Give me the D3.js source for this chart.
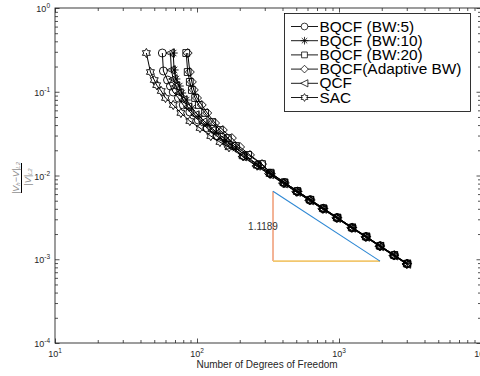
<!DOCTYPE html>
<html>
<head>
<meta charset="utf-8">
<script src="https://cdn.jsdelivr.net/npm/d3@7.9.0/dist/d3.min.js"></script>
<style>
  body { margin: 0; background: #fff; }
  svg { display: block; font-family: "Liberation Sans", Arial, sans-serif; }
</style>
</head>
<body>
<div id="chart"></div>
<script>
// ---- data ----
const sacDof = [44, 47, 50, 52, 56, 60, 68, 77, 89, 105, 125, 145, 168, 211, 265, 327, 410, 506, 625, 772, 968, 1234, 1549, 1944, 2440, 3012];
const sacErr = [0.290, 0.172, 0.138, 0.120, 0.102, 0.0842, 0.0695, 0.0558, 0.0447, 0.0369, 0.0296, 0.0251, 0.0217, 0.0169, 0.0131, 0.0104, 0.00807, 0.00639, 0.00506, 0.00400, 0.00311, 0.00237, 0.00185, 0.00143, 0.00111, 0.000881];

const bw5Dof = [57, 58, 62, 65, 68, 74, 80, 89, 102, 118, 138, 165, 213, 268, 330, 414, 510, 630, 778, 975, 1242, 1559, 1956, 2455, 3030];
const bw5Err = [0.290, 0.177, 0.138, 0.117, 0.0993, 0.0842, 0.0695, 0.0573, 0.0460, 0.0369, 0.0296, 0.0231, 0.0172, 0.0134, 0.0106, 0.00822, 0.00650, 0.00514, 0.00406, 0.00315, 0.00240, 0.00187, 0.00145, 0.00112, 0.000889];

const qcfDof = [65, 66, 68, 71, 75, 80, 86, 97, 110, 128, 150, 176, 209, 262, 324, 406, 502, 620, 766, 961, 1225, 1540, 1932, 2425, 2995];
const qcfErr = [0.290, 0.182, 0.142, 0.117, 0.0966, 0.0797, 0.0657, 0.0528, 0.0435, 0.0349, 0.0273, 0.0225, 0.0168, 0.0130, 0.0103, 0.00800, 0.00634, 0.00502, 0.00397, 0.00309, 0.00236, 0.00184, 0.00142, 0.00110, 0.000876];

const bw10Dof = [68, 69, 71, 75, 78, 84, 92, 103, 118, 136, 160, 188, 270, 333, 417, 514, 634, 782, 980, 1248, 1565, 1962, 2462, 3040];
const bw10Err = [0.290, 0.182, 0.142, 0.117, 0.0966, 0.0797, 0.0640, 0.0513, 0.0412, 0.0331, 0.0265, 0.0213, 0.0133, 0.0105, 0.00815, 0.00645, 0.00510, 0.00403, 0.00313, 0.00239, 0.00186, 0.00144, 0.00112, 0.000886];

const bw20Dof = [84, 86, 89, 92, 97, 103, 114, 128, 145, 165, 188, 229, 287, 330, 412, 508, 627, 775, 972, 1238, 1553, 1950, 2447, 3020];
const bw20Err = [0.290, 0.172, 0.131, 0.105, 0.0842, 0.0695, 0.0558, 0.0435, 0.0349, 0.0280, 0.0225, 0.0176, 0.0137, 0.0108, 0.00830, 0.00652, 0.00512, 0.00404, 0.00313, 0.00238, 0.00186, 0.00144, 0.00112, 0.000884];

const adaptDof = [86, 89, 92, 95, 100, 108, 118, 134, 152, 176, 201, 236, 287, 322, 404, 500, 618, 764, 958, 1222, 1536, 1928, 2420, 2990];
const adaptErr = [0.290, 0.172, 0.131, 0.105, 0.0842, 0.0695, 0.0558, 0.0423, 0.0349, 0.0280, 0.0219, 0.0176, 0.0137, 0.0106, 0.00812, 0.00640, 0.00506, 0.00401, 0.00312, 0.00238, 0.00185, 0.00143, 0.00111, 0.000879];

const legendNames = ['BQCF (BW:5)', 'BQCF (BW:10)', 'BQCF (BW:20)', 'BQCF(Adaptive BW)', 'QCF', 'SAC'];

// slope triangle
const triDof = [343, 1945];
const triErr = [0.00095, 0.0065];
const slopeText = '1.1189';

const xMajor = [10, 100, 1000, 10000];
const yMajor = [1e-4, 1e-3, 1e-2, 1e-1, 1];

// ---- series table ----
const series = [
  { name: legendNames[0], marker: 'circle', dof: bw5Dof, err: bw5Err },
  { name: legendNames[1], marker: 'asterisk', dof: bw10Dof, err: bw10Err },
  { name: legendNames[2], marker: 'square', dof: bw20Dof, err: bw20Err },
  { name: legendNames[3], marker: 'diamond', dof: adaptDof, err: adaptErr },
  { name: legendNames[4], marker: 'triLeft', dof: qcfDof, err: qcfErr },
  { name: legendNames[5], marker: 'hexagram', dof: sacDof, err: sacErr },
];

const width = 480;
const height = 376;
const area = { left: 55, right: 481, top: 8, bottom: 343 };
const axisColor = '#262626';

const svg = d3.select('#chart')
  .append('svg')
  .attr('width', width)
  .attr('height', height);

const xScale = d3.scaleLog().domain([10, 10000]).range([area.left, area.right]);
const yScale = d3.scaleLog().domain([1e-4, 1]).range([area.bottom, area.top]);

// marker shapes
function markerPath(type) {
  const p = d3.path();
  if (type === 'circle') {
    p.moveTo(4, 0); p.arc(0, 0, 4, 0, 2 * Math.PI);
  } else if (type === 'asterisk') {
    const r = 4.5;
    for (let a = 0; a < 4; a++) {
      const t = a * Math.PI / 4;
      p.moveTo(-r * Math.cos(t), -r * Math.sin(t));
      p.lineTo(r * Math.cos(t), r * Math.sin(t));
    }
  } else if (type === 'square') {
    p.rect(-3.4, -3.4, 6.8, 6.8);
  } else if (type === 'diamond') {
    p.moveTo(0, -4.5); p.lineTo(4.5, 0); p.lineTo(0, 4.5); p.lineTo(-4.5, 0); p.closePath();
  } else if (type === 'triLeft') {
    p.moveTo(-4.5, 0); p.lineTo(4, -4.2); p.lineTo(4, 4.2); p.closePath();
  } else if (type === 'hexagram') {
    const R = 4.6, r = R / Math.sqrt(3);
    for (let i = 0; i < 12; i++) {
      const t = -Math.PI / 2 + i * Math.PI / 6;
      const rr = i % 2 === 0 ? R : r;
      if (i === 0) p.moveTo(rr * Math.cos(t), rr * Math.sin(t));
      else p.lineTo(rr * Math.cos(t), rr * Math.sin(t));
    }
    p.closePath();
  }
  return p.toString();
}

// slope triangle
const tri = svg.append('g').attr('class', 'triangle').attr('fill', 'none');
tri.append('line')
  .attr('x1', xScale(triDof[0])).attr('x2', xScale(triDof[0]))
  .attr('y1', yScale(triErr[0])).attr('y2', yScale(triErr[1]))
  .attr('stroke', '#f0a07c').attr('stroke-width', 1.6);
tri.append('line')
  .attr('x1', xScale(triDof[0])).attr('x2', xScale(triDof[1]))
  .attr('y1', yScale(triErr[0])).attr('y2', yScale(triErr[0]))
  .attr('stroke', '#f2c76e').attr('stroke-width', 1.6);
tri.append('line')
  .attr('x1', xScale(triDof[0])).attr('x2', xScale(triDof[1]))
  .attr('y1', yScale(triErr[1])).attr('y2', yScale(triErr[0]))
  .attr('stroke', '#2e88d4').attr('stroke-width', 1.1);
tri.append('text')
  .attr('x', xScale(triDof[0]) - 10)
  .attr('y', (yScale(triErr[0]) + yScale(triErr[1])) / 2 + 3.5)
  .attr('text-anchor', 'middle')
  .attr('font-size', 10)
  .attr('fill', '#333')
  .text(slopeText);

// series lines + markers
const line = d3.line()
  .x((d) => xScale(d[0]))
  .y((d) => yScale(d[1]));

series.forEach((s) => {
  const pts = s.dof.map((d, i) => [d, s.err[i]]);
  const g = svg.append('g').attr('class', 'series');
  g.append('path')
    .attr('d', line(pts))
    .attr('fill', 'none')
    .attr('stroke', '#000')
    .attr('stroke-width', 1);
  g.selectAll('path.mk')
    .data(pts)
    .join('path')
    .attr('class', 'mk')
    .attr('transform', (d) => `translate(${xScale(d[0])},${yScale(d[1])})`)
    .attr('d', markerPath(s.marker))
    .attr('fill', 'none')
    .attr('stroke', '#000')
    .attr('stroke-width', 0.9);
});

// axes: ticks pointing inward on all four sides
const xMinor = xScale.ticks().filter((t) => !xMajor.includes(t));
const yMinor = yScale.ticks().filter((t) => !yMajor.some((m) => Math.abs(m - t) < t * 1e-6));

function styleAxis(g) {
  g.select('.domain').remove();
  g.selectAll('line').attr('stroke', axisColor).attr('stroke-width', 0.8);
  g.selectAll('text').remove();
}

[[d3.axisBottom, area.bottom], [d3.axisTop, area.top]].forEach(([fn, pos]) => {
  svg.append('g').attr('transform', `translate(0,${pos})`)
    .call(fn(xScale).tickValues(xMinor).tickSize(-3).tickFormat('')).call(styleAxis);
  svg.append('g').attr('transform', `translate(0,${pos})`)
    .call(fn(xScale).tickValues(xMajor).tickSize(-4.5).tickFormat('')).call(styleAxis);
});
[[d3.axisLeft, area.left], [d3.axisRight, area.right]].forEach(([fn, pos]) => {
  svg.append('g').attr('transform', `translate(${pos},0)`)
    .call(fn(yScale).tickValues(yMinor).tickSize(-3).tickFormat('')).call(styleAxis);
  svg.append('g').attr('transform', `translate(${pos},0)`)
    .call(fn(yScale).tickValues(yMajor).tickSize(-4.5).tickFormat('')).call(styleAxis);
});

// frame
svg.append('rect')
  .attr('x', area.left).attr('y', area.top)
  .attr('width', area.right - area.left).attr('height', area.bottom - area.top)
  .attr('fill', 'none')
  .attr('stroke', axisColor)
  .attr('stroke-width', 0.9);

// tick labels with superscript exponents
const xl = svg.append('g').attr('fill', axisColor).attr('font-size', 9);
xMajor.forEach((v) => {
  const t = xl.append('text')
    .attr('x', xScale(v))
    .attr('y', area.bottom + 14)
    .attr('text-anchor', 'middle');
  t.append('tspan').text('10');
  t.append('tspan').attr('dy', -4).attr('font-size', 6.5).text(Math.round(Math.log10(v)));
});
const yl = svg.append('g').attr('fill', axisColor).attr('font-size', 9);
yMajor.forEach((v) => {
  const t = yl.append('text')
    .attr('x', area.left - 5)
    .attr('y', yScale(v) + 4)
    .attr('text-anchor', 'end');
  t.append('tspan').text('10');
  const e = Math.round(Math.log10(v));
  t.append('tspan').attr('dy', -4).attr('font-size', 6.5).text(e < 0 ? '-' + Math.abs(e) : e);
});

// axis titles
svg.append('text')
  .attr('x', (xScale(10) + xScale(10000)) / 2 - 1)
  .attr('y', 368)
  .attr('text-anchor', 'middle')
  .attr('font-size', 10)
  .attr('fill', axisColor)
  .text('Number of Degrees of Freedom');

const yt = svg.append('g')
  .attr('transform', 'translate(21.5,178) rotate(-90)')
  .attr('fill', '#8c8c8c')
  .attr('font-size', 9)
  .attr('font-style', 'italic');
yt.append('line')
  .attr('x1', -15).attr('x2', 15).attr('y1', 0).attr('y2', 0)
  .attr('stroke', '#000').attr('stroke-width', 1);
const num = yt.append('text').attr('x', 0).attr('y', -3).attr('text-anchor', 'middle');
num.append('tspan').text('|V');
num.append('tspan').attr('font-size', 6).attr('dy', 1.5).text('h');
num.append('tspan').attr('dy', -1.5).text('\u2212V|');
num.append('tspan').attr('font-size', 6).attr('dy', 1.5).text('L2');
const den = yt.append('text').attr('x', 1).attr('y', 9).attr('text-anchor', 'middle');
den.append('tspan').text('|V|');
den.append('tspan').attr('font-size', 6).attr('dy', 1.5).text('L2');

// legend
const legend = svg.append('g').attr('class', 'legend');
legend.append('rect')
  .attr('x', 284.5).attr('y', 13.5)
  .attr('width', 186).attr('height', 98)
  .attr('fill', '#fff')
  .attr('stroke', '#000')
  .attr('stroke-width', 0.8);
series.forEach((s, i) => {
  const cy = 26.5 + i * 14.2;
  legend.append('line')
    .attr('x1', 291).attr('x2', 318)
    .attr('y1', cy).attr('y2', cy)
    .attr('stroke', '#000').attr('stroke-width', 0.9);
  legend.append('path')
    .attr('transform', `translate(304.5,${cy}) scale(0.85)`)
    .attr('d', markerPath(s.marker))
    .attr('fill', '#fff')
    .attr('stroke', '#000')
    .attr('stroke-width', 0.9);
  legend.append('text')
    .attr('transform', `translate(319.5,${cy + 5}) scale(1.1,1)`)
    .attr('font-size', 14)
    .attr('fill', '#000')
    .text(s.name);
});
</script>
</body>
</html>
